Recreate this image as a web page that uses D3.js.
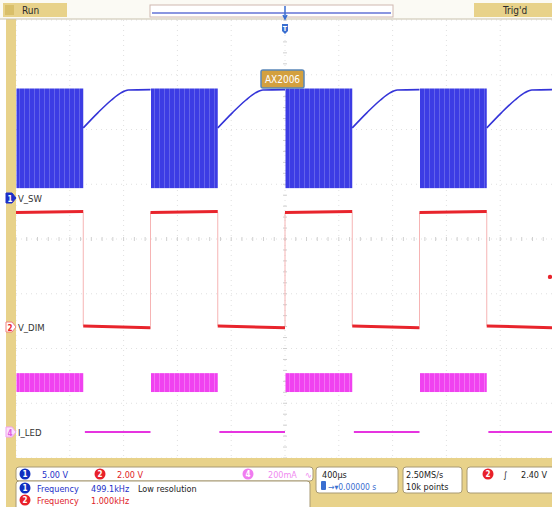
<!DOCTYPE html>
<html>
<head>
<meta charset="utf-8">
<script src="https://cdn.jsdelivr.net/npm/d3@7"></script>
<style>
body { margin: 0; background: #fff; }
text { font-family: "DejaVu Sans Condensed", "DejaVu Sans", sans-serif; }
</style>
</head>
<body>
<script>
// time axis in µs, 400 µs/div, trigger at 0
const timeTicks = d3.range(-2000, 2001, 400)
const levelTicks = d3.range(0, 9)
const onPeriods = [[-2000, -1500], [-1000, -500], [0, 500], [1000, 1500]]
const offPeriods = [[-1500, -1000], [-500, 0], [500, 1000], [1500, 2000]]
const edges = [-1500, -1000, -500, 0, 500, 1000, 1500]

// ch1 V_SW (V): switching band while on, recovery while off (t from off start)
const swBand = [0.9, 10.0]
const swOff = [[0, 6.4], [110, 7.8], [210, 8.95], [280, 9.6], [335, 9.86], [500, 9.9]]
// ch2 V_DIM (V)
const dimHigh = [4.18, 4.22]
const dimLow = [0.04, -0.03]
const trigMarker = 1.83
// ch4 I_LED (mA)
const ledBand = [146, 215]
const ledOff = 0

const W = 552, H = 507
const plotL = 16, plotR = 554, plotT = 20, plotB = 458
const div = (plotB - plotT) / 8

const svg = d3.select('body').append('svg')
    .attr('width', W)
    .attr('height', H)

const x = d3.scaleLinear().domain([-2000, 2000]).range([plotL, plotR])
const y1 = d3.scaleLinear().domain([0, 5]).range([198, 198 - div])
const y2 = d3.scaleLinear().domain([0, 2]).range([327, 327 - div])
const y4 = d3.scaleLinear().domain([0, 200]).range([432, 432 - div])
const gy = d3.scaleLinear().domain([0, 8]).range([plotT, plotB])

const defs = svg.append('defs')
const stripes = (id, base, light) => {
    const p = defs.append('pattern').attr('id', id)
        .attr('patternUnits', 'userSpaceOnUse')
        .attr('width', 5).attr('height', 10)
    p.append('rect').attr('width', 5).attr('height', 10).attr('fill', base)
    p.append('rect').attr('x', 4).attr('width', 1).attr('height', 10).attr('fill', light)
}
stripes('blueBurst', '#3c3ce4', '#6262ea')
stripes('pinkBurst', '#f042f0', '#f570f5')

svg.append('rect').attr('width', W).attr('height', H).attr('fill', '#fff')

// graticule
const grid = svg.append('g')
grid.selectAll('.vg').data(timeTicks).enter().append('line')
    .attr('x1', d => x(d)).attr('x2', d => x(d))
    .attr('y1', plotT).attr('y2', plotB)
    .attr('stroke', '#e0e0e0').attr('stroke-dasharray', '1,4')
grid.selectAll('.hg').data(levelTicks).enter().append('line')
    .attr('x1', plotL).attr('x2', plotR)
    .attr('y1', d => gy(d)).attr('y2', d => gy(d))
    .attr('stroke', '#e0e0e0').attr('stroke-dasharray', '1,4')
// centre axes with minor ticks
grid.selectAll('.mx').data(d3.range(-2000, 2001, 80)).enter().append('line')
    .attr('x1', d => x(d)).attr('x2', d => x(d))
    .attr('y1', gy(4) - 2).attr('y2', gy(4) + 2)
    .attr('stroke', '#d0d0d0')
grid.selectAll('.my').data(d3.range(0, 8.01, 0.2)).enter().append('line')
    .attr('x1', x(0) - 2).attr('x2', x(0) + 2)
    .attr('y1', d => gy(d)).attr('y2', d => gy(d))
    .attr('stroke', '#d0d0d0')

// ch1 V_SW
svg.selectAll('.swb').data(onPeriods).enter().append('rect')
    .attr('x', d => x(d[0]) + 0.5)
    .attr('width', d => x(d[1]) - x(d[0]) - 0.5)
    .attr('y', y1(swBand[1]))
    .attr('height', y1(swBand[0]) - y1(swBand[1]))
    .attr('fill', 'url(#blueBurst)')
const swLine = d3.line().x(d => x(d[0])).y(d => y1(d[1])).curve(d3.curveMonotoneX)
svg.selectAll('.swo').data(offPeriods).enter().append('path')
    .attr('d', d => swLine(swOff.filter(p => d[0] + p[0] <= d[1]).map(p => [d[0] + p[0], p[1]])))
    .attr('fill', 'none').attr('stroke', '#3434d8').attr('stroke-width', 1.6)

// ch2 V_DIM
svg.selectAll('.dime').data(edges).enter().append('line')
    .attr('x1', d => x(d)).attr('x2', d => x(d))
    .attr('y1', y2(dimHigh[0])).attr('y2', y2(dimLow[0]))
    .attr('stroke', '#f6b4b4').attr('stroke-width', 1)
const dimLine = d3.line().x(d => x(d[0])).y(d => y2(d[1]))
svg.selectAll('.dimh').data(onPeriods).enter().append('path')
    .attr('d', d => dimLine([[d[0], dimHigh[0]], [d[1], dimHigh[1]]]))
    .attr('fill', 'none').attr('stroke', '#e8242c').attr('stroke-width', 3)
svg.selectAll('.diml').data(offPeriods).enter().append('path')
    .attr('d', d => dimLine([[d[0], dimLow[0]], [d[1], dimLow[1]]]))
    .attr('fill', 'none').attr('stroke', '#e8242c').attr('stroke-width', 3)
svg.append('circle').attr('cx', 550).attr('cy', y2(trigMarker)).attr('r', 2.2).attr('fill', '#e8242c')

// ch4 I_LED
svg.selectAll('.ledb').data(onPeriods).enter().append('rect')
    .attr('x', d => x(d[0]) + 0.5)
    .attr('width', d => x(d[1]) - x(d[0]) - 0.5)
    .attr('y', y4(ledBand[1]))
    .attr('height', y4(ledBand[0]) - y4(ledBand[1]))
    .attr('fill', 'url(#pinkBurst)')
svg.selectAll('.ledo').data(offPeriods).enter().append('line')
    .attr('x1', d => x(d[0] + 12)).attr('x2', d => x(d[1]))
    .attr('y1', y4(ledOff)).attr('y2', y4(ledOff))
    .attr('stroke', '#e634e0').attr('stroke-width', 2)

// frame: left strip, top bar, bottom panel
const yellow = '#e8d28a'
svg.append('rect').attr('x', 6).attr('y', 18).attr('width', 10).attr('height', 442).attr('fill', yellow)
svg.append('rect').attr('x', 0).attr('y', 0).attr('width', W).attr('height', 19).attr('fill', '#fbfaf4')
svg.append('line').attr('x1', 0).attr('x2', W).attr('y1', 19).attr('y2', 19).attr('stroke', '#c9c2ae')
svg.append('rect').attr('x', 6).attr('y', 458).attr('width', W - 6).attr('height', H - 458).attr('fill', yellow)

const topBar = svg.append('g')
topBar.append('rect').attr('x', 3).attr('y', 3).attr('width', 64).attr('height', 14).attr('fill', yellow)
topBar.append('rect').attr('x', 5).attr('y', 5).attr('width', 9).attr('height', 10).attr('fill', '#d9bf6a')
topBar.append('text').attr('x', 22).attr('y', 14).attr('font-size', 10).attr('fill', '#2a2a2a').text('Run')
topBar.append('rect').attr('x', 150).attr('y', 5).attr('width', 243).attr('height', 12)
    .attr('fill', '#fff').attr('stroke', '#d0b8b0')
topBar.append('line').attr('x1', 152).attr('x2', 391).attr('y1', 13).attr('y2', 13)
    .attr('stroke', '#8a96e0').attr('stroke-width', 2)
topBar.append('rect').attr('x', 474).attr('y', 3).attr('width', 78).attr('height', 14).attr('fill', yellow)
topBar.append('text').attr('x', 503).attr('y', 14).attr('font-size', 10).attr('fill', '#2a2a2a').text("Trig'd")
topBar.append('path').attr('d', `M${x(0)},6 L${x(0)},18 M${x(0) - 2},15 L${x(0)},19 L${x(0) + 2},15`)
    .attr('stroke', '#3a6ed0').attr('stroke-width', 1.5).attr('fill', 'none')
topBar.append('path').attr('d', `M${x(0) - 3},24 L${x(0) + 3},24 L${x(0) + 3},31 L${x(0)},34 L${x(0) - 3},31 Z`)
    .attr('fill', '#3a6ed0')
topBar.append('text').attr('x', x(0)).attr('y', 31).attr('text-anchor', 'middle')
    .attr('font-size', 7).attr('font-weight', 'bold').attr('fill', '#fff').text('T')

// AX2006 label
svg.append('rect').attr('x', 261).attr('y', 70).attr('width', 43).attr('height', 18).attr('rx', 2)
    .attr('fill', '#d3a03e').attr('stroke', '#5a86b8').attr('stroke-width', 1.5)
svg.append('text').attr('x', 282.5).attr('y', 83).attr('text-anchor', 'middle')
    .attr('font-size', 10).attr('fill', '#fff').text('AX2006')

// channel markers
const marker = (yPos, num, fill, stroke, txt, name) => {
    svg.append('path').attr('d', `M6,${yPos - 5} L12,${yPos - 5} L16,${yPos} L12,${yPos + 5} L6,${yPos + 5} Z`)
        .attr('fill', fill).attr('stroke', stroke)
    svg.append('text').attr('x', 10).attr('y', yPos + 3.5).attr('text-anchor', 'middle')
        .attr('font-size', 8).attr('font-weight', 'bold').attr('fill', txt).text(num)
    svg.append('text').attr('x', 18).attr('y', yPos + 4).attr('font-size', 9.5).attr('fill', '#333').text(name)
}
marker(y1(0), '1', '#1c2fc8', '#1c2fc8', '#fff', 'V_SW')
marker(y2(0), '2', '#fff', '#f08080', '#e8242c', 'V_DIM')
marker(y4(0), '4', '#fbe0fb', '#f0a0f0', '#e060e0', 'I_LED')

// bottom boxes
const box = (bx, by, bw, bh) => svg.append('rect').attr('x', bx).attr('y', by).attr('width', bw).attr('height', bh)
    .attr('rx', 3).attr('fill', '#fff').attr('stroke', '#a89a74')
box(16, 467, 297, 14)
box(16, 481, 294, 30)
box(316, 467, 82, 26)
box(403, 467, 59, 26)
box(467, 467, 90, 26)

const badge = (cx, cy, num, fill) => {
    svg.append('circle').attr('cx', cx).attr('cy', cy).attr('r', 5.5).attr('fill', fill)
    svg.append('text').attr('x', cx).attr('y', cy + 3).attr('text-anchor', 'middle')
        .attr('font-size', 8).attr('font-weight', 'bold').attr('fill', '#fff').text(num)
}
const label = (tx, ty, txt, col) => svg.append('text').attr('x', tx).attr('y', ty)
    .attr('font-size', 9).attr('fill', col).text(txt)

const blue = '#2430c8', red = '#e02228', pink = '#f08af0', dark = '#222'
badge(25, 474, '1', '#1030c0'); label(42, 477.5, '5.00 V', blue)
badge(100, 474, '2', '#e8202a'); label(117, 477.5, '2.00 V', red)
badge(248, 474, '4', '#f07cf0'); label(268, 477.5, '200mA', pink); label(305, 477.5, '∿', pink)

badge(25, 488, '1', '#1030c0')
label(37, 491.5, 'Frequency', blue); label(91, 491.5, '499.1kHz', blue); label(138, 491.5, 'Low resolution', dark)
badge(25, 500, '2', '#e8202a')
label(37, 503.5, 'Frequency', red); label(91, 503.5, '1.000kHz', red)

label(322, 478, '400µs', dark)
svg.append('rect').attr('x', 321).attr('y', 481).attr('width', 5).attr('height', 9).attr('rx', 1).attr('fill', '#3a6ed0')
label(328, 489.5, '→▾0.00000 s', '#3a6ed0').attr('font-size', 8.5)
label(406, 478, '2.50MS/s', dark)
label(406, 489.5, '10k points', dark)
badge(488, 474, '2', '#e8202a')
label(503, 477.5, '∫', dark)
label(521, 477.5, '2.40 V', dark)
</script>
</body>
</html>
